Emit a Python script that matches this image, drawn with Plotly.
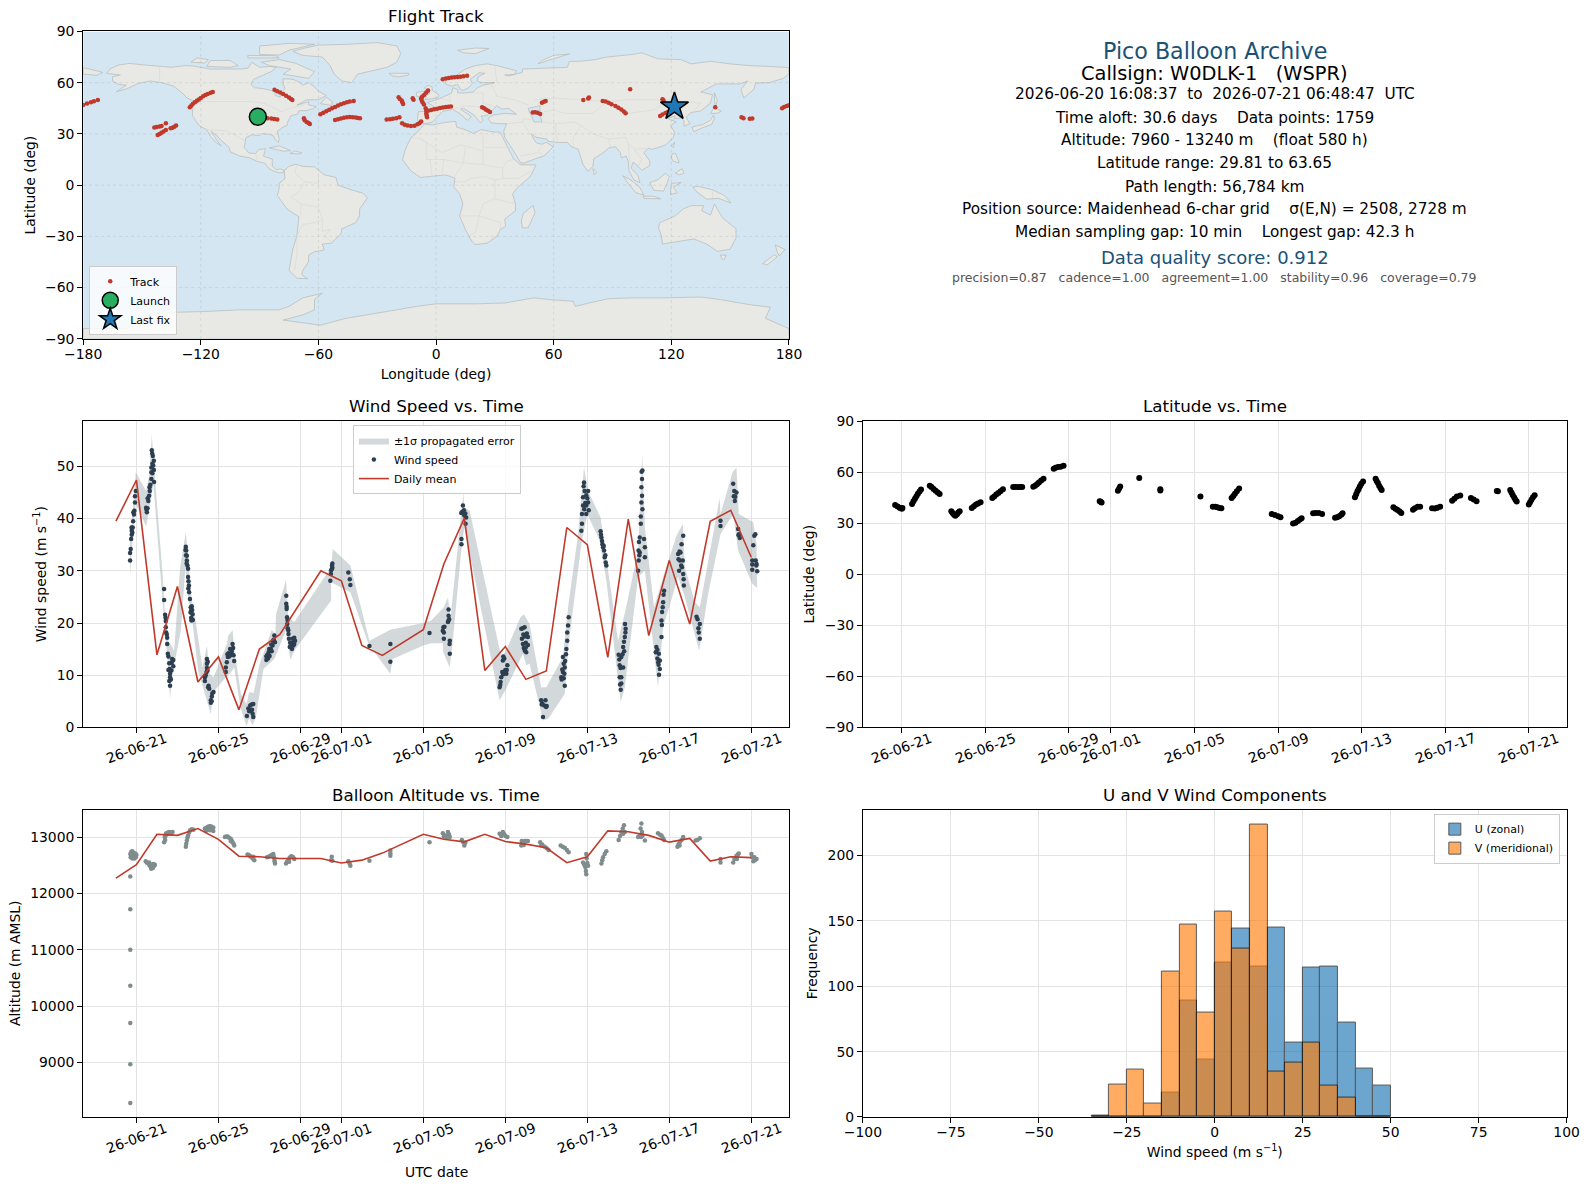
import pandas as pd
import plotly.graph_objects as go

FONT = "DejaVu Sans"
RED = "#c0392b"
NAVY = "#1a5276"
OCEAN = "#d4e6f1"
LAND = "#e8e8e4"
GRID = "#e3e3e3"

# tick values
date_ticks = ["2026-06-21", "2026-06-25", "2026-06-29", "2026-07-01", "2026-07-05",
              "2026-07-09", "2026-07-13", "2026-07-17", "2026-07-21"]
date_labels = ["26-06-21", "26-06-25", "26-06-29", "26-07-01", "26-07-05",
               "26-07-09", "26-07-13", "26-07-17", "26-07-21"]
lon_ticks = [-180, -120, -60, 0, 60, 120, 180]
lat_ticks = [-90, -60, -30, 0, 30, 60, 90]
wind_ticks = [0, 10, 20, 30, 40, 50]
alt_ticks = [9000, 10000, 11000, 12000, 13000]
hist_xticks = [-100, -75, -50, -25, 0, 25, 50, 75, 100]
hist_yticks = [0, 50, 100, 150, 200]

# coastlines as lon, lat rings
land_rings = [
    # north america
    [(-168, 65.5), (-166, 68.3), (-162, 70.3), (-156.5, 71.3), (-150, 70.5), (-141, 69.6), (-135, 69), (-128, 70),
     (-124, 69.8), (-115, 68), (-108, 68), (-100, 68), (-96, 68.5), (-94, 72), (-90, 69), (-85, 69.5), (-81.5, 69),
     (-84, 66.5), (-87, 65), (-93, 62), (-94.5, 59), (-92.5, 57), (-88, 56.5), (-82.5, 55), (-82, 52.5), (-79.5, 51.5),
     (-79, 54.5), (-77, 56.5), (-78, 58.7), (-78, 62.3), (-73, 62), (-70, 60.5), (-68, 58.5), (-65, 60), (-62, 57.5),
     (-60, 55), (-56, 52.5), (-60, 50), (-66, 50), (-71, 46.8), (-65, 48.8), (-65, 47), (-61, 46), (-63, 44.7),
     (-66, 43.7), (-70, 43.5), (-70.5, 41.7), (-74, 40.6), (-75.5, 37.5), (-76, 35), (-78, 34), (-81, 31.5), (-80, 27),
     (-80.5, 25.2), (-82, 26.5), (-83, 29), (-85, 29.7), (-89, 30.2), (-90, 29), (-94, 29.5), (-97, 27.8), (-97.5, 25),
     (-97.8, 22), (-95.5, 18.8), (-92, 18.6), (-90.5, 20.8), (-87, 21.4), (-88, 17), (-83.5, 15.2), (-83.5, 11),
     (-81.5, 9), (-79.5, 9.5), (-77.5, 8.5), (-78, 7.3), (-80.5, 7.3), (-83, 8.3), (-85.5, 10), (-87.5, 13), (-91.5, 14),
     (-95, 16), (-100, 17), (-105, 19.5), (-105.5, 22), (-109, 25.5), (-112.8, 30), (-114.7, 31.5), (-112, 26.5),
     (-109.5, 23), (-112, 24.7), (-115, 28.5), (-117, 32.5), (-120.5, 34.5), (-122.5, 37.5), (-124.3, 41), (-124, 46),
     (-123, 49), (-127, 51), (-130, 54.5), (-134, 58), (-140, 60), (-146, 61), (-152, 59.5), (-158, 56.3), (-163, 54.7),
     (-158, 58.5), (-162, 59), (-165, 61), (-165, 63.5), (-161, 64.5)],
    # greenland
    [(-73, 78.3), (-68, 80), (-60, 82), (-45, 82.5), (-30, 83.5), (-20, 81.5), (-18, 77), (-20, 72), (-25, 69), (-33, 67),
     (-40, 65), (-43, 60), (-48, 61), (-52, 65), (-54, 70), (-58, 75), (-68, 76)],
    # canadian arctic and atlantic islands
    [(-80, 73.5), (-72, 71.5), (-67, 69), (-62, 66.5), (-65, 62.5), (-72, 64), (-78, 65), (-74, 68), (-85, 70), (-89, 72)],
    [(-117, 69.5), (-105, 69), (-101, 70), (-105, 73), (-115, 73)],
    [(-90, 76.5), (-80, 76.2), (-75, 79), (-62, 82.5), (-75, 83), (-90, 81.5)],
    [(-125, 72), (-118, 71.5), (-116, 73.5), (-122, 74.5)],
    [(-96, 74.5), (-80, 74.5), (-82, 75.8), (-96, 76)],
    [(-59, 47.7), (-53, 46.7), (-53, 49), (-56, 51.5)],
    [(-85, 21.8), (-80, 23), (-74.2, 20.2), (-78, 19.9)],
    [(-74.5, 18.5), (-69, 18.3), (-68.5, 19), (-72, 20)],
    # south america
    [(-77.5, 8.5), (-75, 11), (-71.5, 12.3), (-68, 11), (-62, 10.7), (-57, 6), (-51, 4.5), (-50, 0), (-44, -2.5),
     (-37, -4.8), (-35, -7.5), (-39, -14), (-39, -18), (-41, -22), (-48, -25.5), (-48.5, -28.5), (-53.5, -34), (-58, -34.5),
     (-57, -38), (-62, -39), (-65, -41), (-65, -45), (-68, -50), (-68.5, -52.5), (-65.5, -54.8), (-71, -54.5), (-75, -50),
     (-74, -42), (-73, -37), (-71, -30), (-70, -18.5), (-76, -14), (-81, -6), (-80, -2), (-80, 1), (-77, 4)],
    # africa and madagascar
    [(-6, 35.8), (-2, 35.2), (5, 36.8), (10, 37.3), (10.5, 34), (15, 32.4), (19, 30.3), (23, 32.5), (30, 31), (32.5, 31.2),
     (34, 28), (37, 21), (39.5, 15.5), (43, 12), (51, 11.8), (48, 5), (42, -1), (39, -5), (40.5, -11), (40.5, -15), (35, -20),
     (35.5, -24), (32.8, -26), (31, -30), (26, -34), (20, -34.8), (18.3, -33), (15, -26), (12, -18), (13.7, -11), (12, -5),
     (9, -1), (9.7, 4), (5, 6), (-3, 5), (-8, 4.5), (-13, 8.5), (-17, 14.7), (-16, 20), (-13, 27.5), (-9.5, 31)],
    [(49.5, -12), (50.5, -16), (47, -25), (44, -25), (43.5, -21), (44.5, -16.5)],
    # eurasia
    [(-9, 37), (-9.5, 39), (-9, 43), (-2, 43.5), (-1, 46), (-4.5, 48.4), (1.5, 50.5), (4, 52), (8, 54), (8.5, 57), (11, 56),
     (11, 54), (14, 54), (19, 54.5), (21, 57), (24, 58.5), (28, 59.7), (30, 60), (23, 60), (21, 61), (21.5, 63.5), (25, 65.5),
     (22, 65.8), (17.5, 62), (18.5, 59.5), (16.5, 57), (14, 55.5), (12.5, 56), (11, 59), (8, 58), (5, 59), (5, 62), (10, 64),
     (15, 68), (20, 70), (26, 71), (31, 70), (41, 67), (40, 64.8), (35, 64.5), (37, 64), (44, 66), (44, 68), (54, 68.5),
     (60, 69), (67, 69), (68, 72.5), (73, 72.5), (81, 73.5), (87, 75), (100, 76.5), (105, 77.5), (113, 74), (125, 73.5),
     (130, 71), (140, 72.5), (150, 71), (160, 70), (170, 69.5), (180, 68.8), (180, 65), (177, 62.5), (170, 60), (163, 59.8),
     (162, 56), (157, 51), (155.5, 56), (159, 61), (155, 59.3), (143, 59.3), (135, 54.5), (141, 53), (140, 48), (135, 43.5),
     (130, 42.5), (127.5, 39.8), (129.5, 36), (126.5, 34.5), (126.5, 37.5), (125, 39.5), (121.5, 39), (122, 40.7), (118, 39),
     (122.5, 37), (119.5, 35), (121.8, 31), (121, 28), (117, 23.5), (110.5, 21), (108, 21.5), (106, 19), (109, 14), (109, 11.5),
     (105, 8.7), (103, 11), (100.5, 13.5), (99.5, 10), (103, 5.5), (104, 1.5), (101, 3), (98.5, 8), (98, 14), (97, 17), (94.5, 16),
     (94, 19), (91.5, 22.5), (88, 21.8), (86.5, 20), (80.5, 15.5), (80, 11), (77.5, 8), (75, 12), (73, 19), (72.5, 21), (69, 22.5),
     (67, 25), (62, 25), (57, 25.7), (56.5, 27), (51, 28), (48.5, 30), (50, 26.5), (51.5, 24.5), (54, 24), (56.3, 25), (59.8, 22.5),
     (55, 17), (52, 16), (45, 13), (43.2, 13), (39, 21), (35, 28), (34.5, 31.5), (36, 36), (32, 36), (28, 36.5), (26.5, 39), (29, 41),
     (35, 42), (41, 41.5), (37, 45), (33.5, 44.5), (31, 46.5), (28, 43), (26, 40.8), (23, 40.5), (24, 38), (22.5, 36.5), (19.5, 41),
     (14, 45), (12.5, 44.5), (18, 40), (16, 38), (12, 42), (8.5, 44.3), (3.5, 43.3), (0, 39.5), (-2, 36.8), (-5.5, 36)],
    [(-180, 65), (-180, 68.8), (-175, 67.5), (-170, 66), (-173, 64.3)],
    # europe and asia islands
    [(-5.5, 50), (1, 51.2), (1.5, 52.8), (-2, 55.5), (-2, 57.5), (-4, 58.5), (-6, 57), (-3, 54), (-5, 52)],
    [(-10, 52), (-6, 52.2), (-6, 55), (-10, 54.3)],
    [(-24, 65.5), (-14, 65.5), (-14, 64.5), (-19, 63.4), (-22.5, 64)],
    [(11, 79), (20, 80.3), (27, 80), (20, 77), (14, 77.5)],
    [(52, 71), (57, 73), (68, 76.8), (60, 76), (54, 73)],
    [(142, 54), (143.5, 49.5), (142.5, 46), (142, 50)],
    [(130.5, 34), (136, 35.5), (140, 38), (141.5, 41), (142, 39), (140.5, 35.5), (136, 33.7), (131.5, 31.2)],
    [(140, 42), (141.8, 45.5), (145.5, 43.3), (143, 42)],
    [(120, 23), (121.7, 25.2), (121, 22)],
    [(120, 16), (120.5, 18.5), (122.3, 18.3), (124, 13), (121, 14)],
    [(122, 7), (125.5, 9.7), (126.5, 7), (124, 6)],
    [(109, 1.5), (113, 3), (117, 7), (119, 5), (117.8, 1), (116, -3.5), (111, -3)],
    [(95.3, 5.5), (100, 2.5), (104, -1.5), (106, -5.8), (102, -4.5), (98, 1)],
    [(105.5, -6.5), (111, -6.5), (114.5, -8), (106, -7.8)],
    [(119.5, -5.5), (120, 1), (125, 1.5), (121, -1), (123, -4.5)],
    [(131, -1), (134, -0.8), (141, -2.7), (147, -6), (150.5, -10.5), (144, -7.7), (138, -8.2), (133, -4)],
    [(80, 9.7), (82, 7.5), (80.7, 6)],
    # australia and new zealand
    [(114, -22), (122, -18), (126, -14), (130, -12), (136.5, -12), (135.5, -15), (140, -17.5), (142, -11), (146, -19), (153, -25.5),
     (153, -31), (150, -37.5), (143.5, -38.8), (138, -34.5), (131.5, -31.5), (124, -33), (115.5, -34.5), (115, -30), (113.5, -25)],
    [(145, -41), (148, -41), (147, -43.5), (146, -43.5)],
    [(173, -35), (178, -37.7), (175, -41.5), (174, -39)],
    [(172.5, -40.7), (174, -42), (169, -46.6), (166.5, -46)],
    # antarctica
    [(-180, -90), (-180, -84), (-158, -84), (-150, -77), (-135, -74.5), (-118, -74), (-100, -73), (-90, -73), (-80, -73), (-75, -71),
     (-68, -66), (-58, -63.3), (-62, -67), (-62, -73), (-68, -76), (-78, -79), (-59, -82), (-46, -78), (-35, -76), (-20, -73),
     (-10, -71), (0, -69.5), (20, -69.5), (35, -69), (50, -66), (58, -67), (70, -68), (71, -71), (78, -69), (88, -66.5), (100, -66),
     (115, -66), (135, -65.5), (145, -67), (160, -70), (170.5, -71.5), (168, -78), (180, -84), (180, -90)],
]
caspian_ring = [(47, 45), (53, 46.5), (53, 41), (54, 37), (50, 37), (49, 40), (47.5, 43)]

border_lines = [
    [(-123, 49), (-95, 49), (-88, 48), (-83, 45.5), (-79, 43), (-75, 45), (-70, 46), (-67.5, 47)],
    [(-141, 69.6), (-141, 60)],
    [(-117, 32.5), (-106.5, 31.8), (-97.5, 26)],
    [(-71, 12), (-72, 7), (-67, 2), (-70, -4), (-74, -7), (-69, -11), (-69, -17)],
    [(-60, 5), (-60, 1), (-67, 2)],
    [(-58, -20), (-62, -22), (-68, -23), (-71, -30), (-71, -40), (-72, -50)],
    [(-58, -20), (-58, -27), (-54, -26), (-57, -30), (-53.5, -33)],
    [(-69, -11), (-60, -13), (-58, -20)],
    [(-13, 27.5), (-8.5, 27.5), (3, 19), (12, 23.5), (15, 23), (24, 20), (24, 31)],
    [(24, 22), (36.5, 22)],
    [(-8.5, 27.5), (-5, 25), (-5, 15), (4, 15), (14, 13), (15, 23)],
    [(14, 13), (24, 12), (24, 20)],
    [(24, 12), (34, 10), (36, 14), (39.5, 15)],
    [(34, 10), (34, 4), (42, 4), (48, 8)],
    [(34, 4), (30, 3), (25, 5), (18, 4), (15, 2), (9.7, 2)],
    [(30, 3), (30, -8), (24, -11), (22, -18), (12, -18)],
    [(30, -8), (40.5, -11)],
    [(22, -18), (20, -28), (17, -29)],
    [(22, -18), (33, -22), (32.8, -26)],
    [(-2, 5), (-3, 15)],
    [(3, 6.5), (4, 15)],
    [(9, 4.5), (14, 13)],
    [(2.5, 51), (7, 49), (7, 54)],
    [(-2, 43.5), (3, 42.5)],
    [(7, 44), (14, 46.5), (20, 46), (28, 45.5)],
    [(14, 54), (24, 54), (24, 48), (30, 46)],
    [(28, 59.7), (31, 52), (40, 50), (47, 47)],
    [(30, 70), (31, 60)],
    [(36, 36), (44, 37), (48, 30)],
    [(44, 37), (45, 39), (49, 38)],
    [(53, 37), (61, 36), (61, 31), (62, 25)],
    [(61, 36), (71, 37), (74, 35), (70, 28), (70, 22.5)],
    [(51, 42), (60, 44), (66, 42), (80, 42), (87, 49), (60, 51), (50, 50)],
    [(87, 49), (98, 42), (111, 44), (119, 50), (135, 48), (131, 43)],
    [(98, 50), (87, 49)],
    [(119, 50), (98, 50)],
    [(74, 35), (80, 30), (88, 27), (97, 28), (98, 24), (102, 21), (107, 21.5)],
    [(88, 27), (89, 22)],
    [(98, 24), (99, 12)],
    [(101, 21), (105, 15), (103, 11)],
    [(55, 17), (52, 20), (55, 24)],
    [(43, 17), (52, 19)],
    [(141, -2.7), (141, -9)],
    [(-83, 15), (-85, 11)],
    [(-92, 18), (-91, 14)],
]

# flight track markers, lon, lat
launch_lon = [-90.9]
launch_lat = [40.1]
last_lon = [121.6]
last_lat = [46.0]
track_samples = [
    (-180, 47), (-178, 47.8), (-176, 48.5), (-174.5, 49.2), (-172.5, 49.8),
    (-125.6, 45.6), (-124.8, 46.7), (-124, 47.6), (-123, 48.5), (-122, 49.4), (-121, 50.2), (-120, 51), (-118.8, 52),
    (-117.7, 52.8), (-116.5, 53.4), (-115, 54.1), (-113.9, 54.6),
    (-143.7, 33.8), (-142.5, 34), (-141, 34.3), (-140, 34.6), (-142, 29.3), (-141, 30), (-140, 30.7), (-139, 31.4), (-137.8, 32.3),
    (-137.8, 36.2), (-135.4, 33.3), (-134.5, 33.6), (-133.5, 34.2), (-132.6, 35),
    (-90, 39.6), (-88, 39.4), (-86, 39.2), (-84, 39), (-82.5, 38.8), (-81, 38.5),
    (-82.4, 55.8), (-81, 55), (-79.5, 54.2), (-78, 53.3), (-76.5, 52.4), (-75, 51.3), (-74, 50.5), (-73.3, 49.9),
    (-67.4, 39.1), (-67, 38), (-66, 37), (-65, 36.4), (-64.4, 35.8),
    (-59, 41.5), (-57.5, 42.4), (-56, 43.3), (-54.5, 44.1), (-53, 45), (-51.5, 45.8), (-50, 46.6), (-48.5, 47.4), (-47, 48),
    (-45.5, 48.5), (-44, 49), (-42, 49.3),
    (-51.5, 38.2), (-50, 38.6), (-48.5, 39), (-47, 39.5), (-45.5, 39.7), (-44, 39.9), (-42.5, 39.8), (-41, 39.6), (-39.8, 39.3), (-38.8, 39.1),
    (-25.2, 38.5), (-23.5, 38.6), (-22, 38.9), (-20.3, 39.2), (-18.7, 39.7),
    (-19.1, 51.5), (-18.5, 50.5), (-17.5, 49.5), (-17.2, 48.5), (-16.8, 47.5), (-11.9, 50.9), (-11.5, 50),
    (-17.3, 36.2), (-16, 35.4), (-14.5, 34.9), (-12.8, 34.6), (-11, 34.8), (-9.5, 35.6), (-8.5, 36.3), (-7.6, 37.2),
    (-4.1, 55.4), (-5, 54.2), (-6, 53), (-7, 51.9), (-7.6, 50.9), (-7.4, 49.8), (-6.9, 48.6), (-6.2, 47.2), (-5.3, 45), (-5, 43.5),
    (-5, 42), (-4.8, 40.8), (-4.6, 39.7),
    (-4.1, 43.6), (-2.5, 44), (-1, 44.4), (0.5, 44.8), (2, 45.2), (3.5, 45.5), (5, 45.7), (6.3, 45.9), (7.6, 46),
    (3.4, 62), (5, 62.4), (6.5, 62.8), (8, 63), (9.5, 63.2), (11, 63.4), (12.5, 63.5), (14, 63.7), (15.8, 64),
    (23.5, 45.6), (24.5, 45), (25.5, 44.2), (26.5, 43.5), (27.5, 42.9),
    (49.3, 42.5), (50.5, 42.7), (51.8, 42.4), (53.1, 41.7),
    (54, 48.3), (55, 48.9), (55.9, 49.3),
    (75.1, 49.9), (78, 51.3), (77.6, 50.8),
    (85, 49.3), (86.5, 49), (88, 48.3), (89.5, 47.4), (91.5, 46.4), (93, 45.3), (94.5, 44.3), (95.8, 43.1), (96.7, 42.1),
    (99, 56.2), (115.5, 50.3), (116, 49.5),
    (114.3, 40.5), (115.5, 41.3), (117, 42.2), (118.3, 43), (119.5, 43.9), (120.8, 44.8),
    (142.4, 45.6), (155.8, 39.7), (156.8, 39.2), (160, 38.9), (161.3, 39),
    (176.5, 45), (177.5, 45.7), (178.8, 46.3), (180, 46.8),
]

# day numbers counted from 2026-06-21, daily means have no 06-29 or 07-04
mean_days = [-1, 0, 1, 2, 3, 4, 5, 6, 7, 9, 10, 11, 12, 14, 15, 16, 17, 18, 19, 20, 21, 22, 23, 24, 25, 26, 27, 28, 29, 30]
mean_wind = [39.5, 47.4, 13.9, 27, 8.7, 13.5, 3.4, 15, 17.8, 30, 28.1, 15.7, 13.8, 18.7, 31.3, 40.1, 10.9, 15.5, 9.2, 10.8,
             38.3, 35, 13.4, 39.9, 17.6, 32, 19.8, 39.5, 41.6, 32.6]
mean_alt = [12270, 12510, 13050, 13030, 13150, 12960, 12660, 12650, 12620, 12620, 12540, 12590, 12715, 13050, 12960, 12915,
            13050, 12920, 12875, 12810, 12545, 12650, 13110, 13095, 13030, 12910, 12975, 12575, 12650, 12635]

wind_samples = [
    (-.31, 32), (-.31, 33.4), (-.28, 34.2), (-.26, 36.1), (-.23, 36.9), (-.23, 37.7), (-.24, 38.3), (-.18, 38.3), (-.2, 37.3),
    (-.16, 39.5), (-.15, 41.2), (-.1, 41.5), (-.12, 40.8), (-.07, 43.1), (-.07, 44.3), (-.03, 45.3),
    (.49, 41.7), (.51, 41.2), (.54, 42), (.47, 42.1), (.55, 43.9), (.58, 43.4), (.62, 44.4), (.65, 45.3), (.68, 46.5), (.64, 46), (.73, 47.6),
    (.86, 47), (.73, 48.9), (.85, 49.3), (.78, 48.7), (.73, 49.8), (.85, 51.1), (.78, 50.5), (.8, 52), (.75, 53.1), (.77, 52.5), (.82, 50.2),
    (1.35, 26.5), (1.35, 24.4), (1.4, 21.6), (1.42, 21), (1.43, 20.4), (1.43, 19.2), (1.45, 18.2), (1.5, 17.2), (1.48, 17.8), (1.5, 16), (1.53, 14.1), (1.56, 13.6),
    (1.74, 13.1), (1.8, 12.9), (1.6, 12.3), (1.8, 11.7), (1.72, 12.4), (1.56, 11), (1.71, 10.9), (1.64, 10.3), (1.64, 9.6), (1.6, 8.9), (1.64, 8), (1.68, 9.2), (1.62, 11.2),
    (2.41, 34.6), (2.43, 33.9), (2.39, 34), (2.46, 32.9), (2.46, 32), (2.42, 33), (2.49, 31), (2.45, 31.4), (2.52, 30.4), (2.52, 28.8), (2.54, 28), (2.56, 27.2), (2.53, 26.6), (2.57, 25.9), (2.61, 24.6),
    (2.65, 23), (2.67, 22.4), (2.64, 22), (2.74, 21.7), (2.67, 21), (2.75, 20.6), (2.7, 23.2), (2.72, 22.5), (2.68, 20.5),
    (3.44, 13.1), (3.44, 12.2), (3.48, 12.6), (3.44, 11.4), (3.42, 10.6), (3.47, 10.9), (3.34, 9.6), (3.38, 10), (3.34, 8.9), (3.52, 8), (3.55, 7.4), (3.5, 7.7),
    (3.76, 6.8), (3.68, 5.9), (3.7, 6.5), (3.63, 5.2), (3.63, 4.7), (3.67, 5),
    (4.36, 11.5), (4.36, 10.6), (4.41, 12.5), (4.46, 13.5), (4.49, 14.2), (4.44, 14), (4.57, 15), (4.52, 13.6), (4.6, 13.8), (4.69, 16), (4.72, 15.2), (4.66, 15), (4.74, 13.8), (4.68, 13.9), (4.77, 12.7), (4.65, 14.5),
    (5.39, 2.2), (5.46, 3.6), (5.5, 3.1), (5.55, 4.2), (5.62, 4.4), (5.7, 4.5), (5.59, 3.3), (5.67, 2.6), (5.7, 2), (5.64, 3.4),
    (6.34, 12.9), (6.37, 13.8), (6.34, 13.6), (6.45, 14.4), (6.42, 13.2), (6.5, 13.7), (6.56, 15), (6.48, 15), (6.64, 15.7), (6.6, 14.6), (6.73, 17.6), (6.7, 16.8), (6.76, 16.3), (6.66, 16.6), (6.58, 15.9),
    (7.31, 25.2), (7.31, 23.7), (7.33, 23.1), (7.33, 22.7), (7.35, 21.1), (7.37, 20.6), (7.36, 19.8), (7.38, 19), (7.41, 18.6), (7.42, 17.9), (7.44, 17), (7.5, 16.2), (7.48, 15.4), (7.59, 15),
    (7.7, 17.2), (7.7, 16), (7.6, 16.2), (7.62, 17), (7.66, 15.7), (7.55, 15.6), (7.74, 16.6),
    (9.46, 28.1), (9.49, 29.4), (9.54, 30.4), (9.5, 30.1), (9.56, 31.4), (9.54, 31), (9.56, 30.6),
    (10.34, 29.7), (10.41, 28.4), (10.44, 27.3), (11.37, 15.6), (12.39, 16), (12.39, 12.6), (14.3, 18.1),
    (14.98, 19.2), (15, 18.2), (14.95, 18.5), (15, 17), (15.03, 19.3), (15.23, 22.6), (15.23, 21.4), (15.23, 20.5), (15.2, 20.2), (15.26, 20.7), (15.29, 16.6), (15.29, 14.1), (15.28, 16),
    (15.93, 42.5), (15.85, 41.1), (15.9, 41.3), (16.09, 40.2), (16, 40.6), (16.05, 41), (16.06, 39), (15.98, 41.6), (15.86, 36.1), (15.86, 35.1),
    (17.9, 13.6), (17.88, 12.8), (17.95, 13.2), (18.1, 11.9), (17.85, 10.6), (18.05, 10.3), (17.95, 10.5), (18, 11), (18.07, 11), (17.8, 9.6), (17.77, 8.7), (17.72, 7.7), (17.75, 8.1), (17.9, 10.2),
    (18.78, 18.9), (18.94, 19.2), (18.85, 19), (18.81, 17), (19.1, 17.3), (19.02, 14.4), (18.86, 16), (18.95, 17.4), (19, 16.2), (19.1, 15.8), (18.9, 15.2), (18.95, 14.7), (19.05, 18), (18.88, 17.8), (19, 15.3),
    (19.75, 5.2), (19.99, 3.9), (19.96, 5.2), (19.84, 2), (19.8, 4.6), (19.9, 4.2), (20.02, 4.1), (19.78, 4.4),
    (20.73, 9.6), (20.9, 8), (20.81, 10.6), (20.9, 11.5), (20.85, 12.2), (20.81, 13.5), (20.78, 11.1), (20.75, 9.2), (20.85, 9.4), (20.88, 10.3), (20.92, 12.7), (20.98, 15), (21.02, 16.6), (21.02, 18.2), (21.06, 19.5), (21.09, 21.1), (20.96, 14),
    (21.71, 37.7), (21.74, 39), (21.74, 40.9), (21.79, 42.5), (21.79, 44.1), (21.87, 45.3), (21.84, 46.9), (21.82, 46.2), (22.04, 45.3), (22.04, 43.1), (22.07, 41.6), (21.95, 40.9), (21.95, 42.5), (21.9, 43), (21.95, 44.5), (22, 43.9), (21.85, 41.8),
    (22.65, 37.6), (22.67, 36.9), (22.69, 36.4), (22.72, 35.7), (22.74, 35.1), (22.77, 34.5), (22.82, 33.9), (22.85, 32.6), (22.93, 31), (22.9, 31.6), (22.8, 34.8), (22.88, 33),
    (23.53, 13.9), (23.58, 11.9), (23.56, 13), (23.75, 11.5), (23.66, 13.5), (23.66, 9.6), (23.66, 8.4), (23.63, 7.2), (23.58, 9.6), (23.62, 11.4), (23.6, 8.2),
    (23.75, 15.4), (23.83, 17.3), (23.79, 16.4), (23.87, 18.9), (23.84, 19.8), (23.86, 18.2), (23.8, 14.6), (23.72, 14),
    (24.48, 30), (24.51, 32), (24.54, 33), (24.56, 33.5), (24.52, 35.5), (24.56, 36.4), (24.61, 39), (24.61, 40.4), (24.69, 41.8), (24.64, 43.1), (24.67, 44.4), (24.64, 46), (24.67, 47.6), (24.69, 49.2), (24.65, 49),
    (24.77, 36.1), (24.81, 34.5), (24.81, 32.6), (24.5, 33.9),
    (25.37, 15.4), (25.42, 14.9), (25.34, 14.4), (25.49, 14.1), (25.42, 13.2), (25.54, 12.8), (25.46, 12.5), (25.54, 11.2), (25.5, 10.1), (25.48, 12), (25.62, 20.5), (25.65, 22.1), (25.68, 23), (25.7, 24), (25.72, 25.4), (25.75, 26.2), (25.62, 17.3), (25.64, 19.6),
    (26.43, 33.2), (26.51, 32), (26.48, 30), (26.45, 32.2), (26.55, 33.5), (26.6, 35.1), (26.5, 33.7), (26.58, 31), (26.68, 36.7), (26.68, 29.4), (26.7, 28.4), (26.71, 27.2), (26.66, 32), (26.62, 30.7),
    (27.33, 21.2), (27.38, 20.7), (27.49, 19.8), (27.44, 18.2), (27.42, 19), (27.49, 17),
    (28.5, 38.6), (28.5, 39.6), (29.12, 46.7), (29.17, 45.3), (29.28, 45), (29.2, 43.4), (29.15, 44.3), (29.22, 44.2), (29.36, 38), (29.4, 37), (29.44, 36.3), (29.38, 36.8),
    (30.15, 36.7), (30.2, 37), (30.1, 34.9), (30.05, 32), (30.05, 30.2), (30.05, 31.2), (30.26, 31.3), (30.22, 32), (30.29, 29.9), (30.25, 31),
]
band_upper = [
    (-.31, 35.5), (-.11, 44.7), (-.03, 48.9), (.47, 45.3), (.62, 48.2), (.75, 56.1), (.85, 50.4), (1.29, 28.8), (1.38, 22.4), (1.55, 16.6), (1.71, 15.7),
    (1.84, 14.7), (2.13, 30.7), (2.41, 37.4), (2.52, 32.6), (2.69, 24.9), (2.9, 20.2), (3.22, 11.5), (3.44, 15.7), (3.57, 10.3), (3.76, 9.6), (4.41, 16),
    (4.48, 17.6), (4.69, 18.6), (4.8, 14.4), (5.1, 6.4), (5.37, 4.5), (5.5, 6.8), (5.72, 6.6), (6.01, 12.2), (6.37, 16), (6.6, 18.7), (6.78, 17.9), (6.81, 21.7),
    (7.3, 28.3), (7.41, 21.1), (7.7, 20.2), (9.5, 30.7), (9.58, 34.2), (10.44, 31), (11.37, 16.6), (12.39, 18.7), (14, 20), (14.38, 20.5), (15, 23), (15.2, 24.9),
    (15.33, 21.1), (15.95, 45), (16, 42.2), (16.26, 41.5), (17.8, 13.5), (18.04, 14.7), (18.74, 21.1), (18.91, 21.7), (19.18, 19.8), (19.75, 7.7), (20, 7.7),
    (20.81, 13.5), (21.06, 23), (21.55, 37), (21.84, 49.8), (22.04, 45.3), (22.65, 40.2), (23.01, 30), (23.5, 16.6), (23.86, 22.4), (24.48, 33.9), (24.68, 52.4),
    (24.81, 38.3), (25.26, 23), (25.7, 28.8), (26.35, 36.7), (26.66, 39), (26.76, 30.7), (27.25, 24), (27.49, 23), (28.46, 44), (28.5, 40.9), (29.09, 48.9),
    (29.28, 49.8), (29.39, 40.9), (30.1, 39.3), (30.26, 35.1),
]
band_lower = [
    (-.31, 28.8), (-.11, 40.9), (-.03, 42.8), (.47, 38.5), (.62, 41.5), (.83, 46.5), (1.27, 24.3), (1.48, 14.7), (1.64, 5.5), (1.76, 10.3), (2.17, 18.6),
    (2.39, 30.7), (2.52, 24.9), (2.74, 19.8), (3.01, 10.9), (3.34, 6.4), (3.63, 2.5), (3.76, 6.8), (4.36, 9.6), (4.56, 10.3), (4.77, 11.5), (5.07, 3.9), (5.37, .2),
    (5.5, 1.7), (5.67, .4), (5.83, 2), (6.2, 11.2), (6.4, 11.9), (6.73, 13.1), (7.3, 18.6), (7.51, 12.9), (7.7, 14.7), (9.5, 24.3), (9.5, 27.8), (10.44, 25.9),
    (11.32, 16), (12.39, 10.3), (12.5, 13.1), (14, 15.7), (14.38, 16.1), (14.95, 16.1), (14.97, 14.4), (15.29, 11.5), (15.44, 16.6), (15.85, 33.9), (16, 38.3),
    (17.72, 5.2), (18.04, 7.4), (18.86, 14.1), (19.02, 11.9), (19.18, 12.2), (19.84, 1.3), (20.1, 1.7), (20.9, 6.4), (21.09, 16), (21.71, 35.1), (22, 40.9),
    (22.6, 35.8), (22.93, 28.1), (23.63, 4.8), (23.83, 7.7), (24.48, 28.8), (24.81, 30), (25.45, 7.7), (25.7, 19.2), (26.43, 28.8), (26.76, 24.9), (27.46, 14.7),
    (27.9, 25.6), (28.5, 37), (29.12, 40.9), (29.36, 33.9), (30.05, 27.5), (30.29, 26.7),
]

alt_samples = [
    (-.3, 8280), (-.3, 8970), (-.3, 9700), (-.3, 10360), (-.3, 11000), (-.3, 11720), (-.3, 12300),
    (-.3, 12700), (-.25, 12740), (-.2, 12750), (-.15, 12720), (-.1, 12700), (-.28, 12640), (-.2, 12620), (-.1, 12620), (-.03, 12640), (0, 12680), (-.22, 12680), (-.12, 12660), (-.05, 12710),
    (.45, 12570), (.5, 12550), (.55, 12540), (.62, 12510), (.66, 12490), (.7, 12470), (.72, 12440), (.76, 12460), (.8, 12450), (.87, 12490), (.9, 12510), (.62, 12550), (.75, 12510), (.83, 12520),
    (1.35, 12910), (1.38, 13000), (1.4, 12950), (1.45, 13070), (1.5, 13050), (1.55, 13080), (1.6, 13090), (1.65, 13060), (1.7, 13070), (1.76, 13090), (1.42, 13030),
    (2.41, 12830), (2.43, 12880), (2.46, 12940), (2.49, 12990), (2.52, 13030), (2.57, 13080), (2.62, 13120), (2.7, 13140), (2.78, 13130),
    (3.34, 13150), (3.39, 13110), (3.42, 13160), (3.47, 13180), (3.55, 13190), (3.63, 13190), (3.75, 13170), (3.75, 13110), (3.6, 13120), (3.5, 13130), (3.68, 13140),
    (4.32, 13000), (4.38, 13010), (4.45, 13010), (4.52, 12990), (4.6, 12970), (4.65, 12940), (4.69, 12910), (4.74, 12880), (4.77, 12850), (4.6, 12930),
    (5.42, 12690), (5.48, 12680), (5.55, 12660), (5.59, 12650), (5.67, 12620), (5.75, 12590), (5.7, 12650),
    (6.37, 12640), (6.45, 12650), (6.53, 12670), (6.6, 12680), (6.68, 12700), (6.7, 12650), (6.73, 12610), (6.74, 12570), (6.76, 12530),
    (7.3, 12530), (7.35, 12560), (7.41, 12590), (7.47, 12630), (7.52, 12650), (7.57, 12660), (7.65, 12640), (7.7, 12610), (7.45, 12560),
    (9.53, 12650), (9.5, 12590), (9.56, 12580), (10.34, 12570), (10.4, 12530), (10.44, 12490), (11.37, 12580), (12.39, 12760), (12.39, 12715), (12.39, 12670), (14.3, 12910),
    (14.95, 13070), (15, 13010), (15.06, 13030), (15.2, 13090), (15.25, 13050), (15.29, 13000), (15.12, 13000),
    (15.88, 12950), (15.95, 12910), (16, 12850), (16.05, 12900),
    (17.72, 13060), (17.8, 13020), (17.88, 13090), (17.95, 13050), (18.1, 13000), (18, 13020),
    (18.78, 12850), (18.82, 12900), (18.86, 12910), (18.95, 12930), (19.02, 12930), (19.1, 12930), (18.8, 12930), (18.9, 12860),
    (19.7, 12910), (19.75, 12850), (19.8, 12870), (19.92, 12830), (20.02, 12800), (20.11, 12770),
    (20.7, 12850), (20.8, 12830), (20.9, 12810), (21, 12770), (21.09, 12730),
    (21.79, 12550), (21.85, 12510), (21.9, 12470), (21.93, 12400), (21.95, 12340), (21.95, 12700), (21.97, 12620), (22, 12540), (22.04, 12490),
    (22.69, 12530), (22.73, 12590), (22.77, 12640), (22.85, 12700), (22.93, 12750),
    (23.53, 12950), (23.6, 13020), (23.66, 13090), (23.73, 13150), (23.79, 13210), (23.83, 13090), (23.75, 13060),
    (24.48, 13000), (24.55, 13020), (24.6, 13150), (24.64, 13240), (24.67, 13090), (24.7, 13030), (24.81, 12940), (24.63, 13000),
    (25.45, 13070), (25.55, 13040), (25.62, 13030), (25.68, 12990), (25.75, 12950),
    (26.4, 12830), (26.45, 12870), (26.51, 12910), (26.6, 12950), (26.68, 13000), (26.5, 12850),
    (27.28, 12940), (27.38, 12950), (27.49, 12980),
    (28.5, 12550), (28.5, 12610), (29.12, 12550), (29.18, 12610), (29.28, 12670), (29.35, 12690), (29.39, 12710), (29.3, 12610),
    (30.01, 12700), (30.05, 12640), (30.1, 12570), (30.18, 12590), (30.26, 12610), (30.15, 12640),
]
lat_samples = [
    (-.32, 40.7), (-.2, 39.8), (-.1, 39), (0, 38.4), (.03, 38.9),
    (.49, 41.3), (.56, 42.8), (.63, 44.4), (.7, 45.8), (.77, 47.2), (.85, 48.6), (.92, 49.7),
    (1.34, 52), (1.42, 51.2), (1.52, 50), (1.62, 49), (1.72, 48), (1.81, 47.1),
    (2.37, 37), (2.43, 36), (2.5, 35), (2.56, 34.3), (2.64, 35.3), (2.7, 36.2), (2.77, 37),
    (3.35, 38.9), (3.45, 39.9), (3.55, 40.9), (3.65, 41.5), (3.77, 42.3),
    (4.33, 44.8), (4.42, 45.7), (4.52, 46.8), (4.62, 47.7), (4.72, 48.8), (4.84, 49.9),
    (5.33, 51.2), (5.43, 51.2), (5.55, 51.2), (5.66, 51.3), (5.76, 51.2),
    (6.29, 51.4), (6.38, 52), (6.47, 52.9), (6.56, 53.9), (6.67, 55), (6.78, 56.1),
    (7.27, 62), (7.36, 62.5), (7.47, 63), (7.6, 63.2), (7.74, 63.7),
    (9.47, 42.9), (9.51, 42.5), (9.56, 42.2),
    (10.34, 49.1), (10.4, 50.3), (10.45, 51.6), (11.36, 56.5), (12.37, 49.9), (12.37, 49.2), (14.29, 45.6),
    (14.88, 39.7), (15, 39.6), (15.1, 39.3), (15.2, 38.9), (15.29, 38.8),
    (15.78, 44.8), (15.86, 46), (15.94, 47.3), (16.03, 48.7), (16.14, 50.4),
    (17.7, 35.4), (17.85, 34.8), (18, 34), (18.12, 33.5),
    (18.72, 29.8), (18.84, 30.2), (18.95, 31.3), (19.05, 32.2), (19.13, 32.9),
    (19.68, 35.8), (19.8, 36), (19.95, 35.9), (20.11, 35.4),
    (20.73, 33.1), (20.83, 33.5), (20.93, 34.1), (21.03, 35), (21.09, 35.8),
    (21.68, 45.2), (21.74, 47), (21.8, 48.7), (21.86, 50), (21.92, 51.7), (21.99, 53.2), (22.07, 54.5),
    (22.67, 56.1), (22.72, 54.8), (22.78, 53.6), (22.84, 52), (22.9, 50.7), (22.96, 49.5),
    (23.52, 39.3), (23.62, 38.5), (23.72, 37.7), (23.82, 36.8), (23.9, 36),
    (24.46, 37.8), (24.55, 38.7), (24.68, 39.6), (24.8, 39.7),
    (25.37, 38.8), (25.5, 38.6), (25.62, 39), (25.76, 39.7),
    (26.33, 43.2), (26.44, 44.3), (26.56, 45.6), (26.72, 46.2),
    (27.23, 44.8), (27.36, 43.9), (27.5, 42.8),
    (28.47, 48.9), (28.52, 48.8),
    (29.11, 49.5), (29.17, 48), (29.23, 46.5), (29.3, 45), (29.36, 43.8), (29.42, 42.7),
    (30, 40.9), (30.06, 42.3), (30.13, 43.8), (30.2, 45.2), (30.28, 46.4),
]

# histogram counts, 5 m/s bins
bin_left = [-35, -30, -25, -20, -15, -10, -5, 0, 5, 10, 15, 20, 25, 30, 35, 40, 45]
u_counts = [1, 0, 0, 0, 19, 89, 44, 118, 144, 115, 145, 57, 114, 115, 72, 37, 24]
v_counts = [0, 25, 36, 10, 111, 147, 80, 157, 129, 224, 35, 42, 57, 24, 15, 0, 0]

title_lines = [
    ("Pico Balloon Archive", 22.2, NAVY, 50),
    ("Callsign: W0DLK-1 \u00a0 (WSPR)", 19.4, "black", 72),
    ("2026-06-20 16:08:37 \u00a0to\u00a0 2026-07-21 06:48:47 \u00a0UTC", 15.3, "black", 93),
    ("Time aloft: 30.6 days \u00a0\u00a0 Data points: 1759", 15.3, "black", 116),
    ("Altitude: 7960 - 13240 m \u00a0\u00a0 (float 580 h)", 15.3, "black", 138),
    ("Latitude range: 29.81 to 63.65", 15.3, "black", 161),
    ("Path length: 56,784 km", 15.3, "black", 184),
    ("Position source: Maidenhead 6-char grid \u00a0\u00a0 σ(E,N) = 2508, 2728 m", 15.3, "black", 206),
    ("Median sampling gap: 10 min \u00a0\u00a0 Longest gap: 42.3 h", 15.3, "black", 229),
    ("Data quality score: 0.912", 18, NAVY, 254),
    ("precision=0.87 \u00a0 cadence=1.00 \u00a0 agreement=1.00 \u00a0 stability=0.96 \u00a0 coverage=0.79", 12.5, "#555555", 274),
]


def to_dates(days):
    return pd.Timestamp("2026-06-21") + pd.to_timedelta(list(days), unit="D")


def split_rings(rings):
    xs, ys = [], []
    for ring in rings:
        xs += [p[0] for p in ring] + [None]
        ys += [p[1] for p in ring] + [None]
    return xs, ys


def close_rings(rings):
    return [ring + ring[:1] for ring in rings]


def pairs(samples):
    return [s[0] for s in samples], [s[1] for s in samples]


fig = go.Figure()

# map panel
land_x, land_y = split_rings(close_rings(land_rings))
fig.add_trace(go.Scatter(x=land_x, y=land_y, mode="lines", fill="toself", fillcolor=LAND,
                         line=dict(color="#b4baba", width=0.7), showlegend=False, hoverinfo="skip"))
border_x, border_y = split_rings(border_lines)
fig.add_trace(go.Scatter(x=border_x, y=border_y, mode="lines", line=dict(color="#d6d8d6", width=0.6),
                         showlegend=False, hoverinfo="skip"))
casp_x, casp_y = split_rings(close_rings([caspian_ring]))
fig.add_trace(go.Scatter(x=casp_x, y=casp_y, mode="lines", fill="toself", fillcolor=OCEAN,
                         line=dict(color="#b4baba", width=0.7), showlegend=False, hoverinfo="skip"))
grat_x, grat_y = split_rings([[(x, -90), (x, 90)] for x in lon_ticks[1:-1]] + [[(-180, y), (180, y)] for y in lat_ticks[1:-1]])
fig.add_trace(go.Scatter(x=grat_x, y=grat_y, mode="lines", line=dict(color="rgba(120,120,120,0.22)", width=0.7, dash="dot"),
                         showlegend=False, hoverinfo="skip"))
track_x, track_y = pairs(track_samples)
fig.add_trace(go.Scatter(x=track_x, y=track_y, mode="markers", name="Track", legend="legend",
                         marker=dict(color=RED, size=4.5)))
fig.add_trace(go.Scatter(x=launch_lon, y=launch_lat, mode="markers", name="Launch", legend="legend",
                         marker=dict(color="#27ae60", size=17, line=dict(color="black", width=1.5))))
fig.add_trace(go.Scatter(x=last_lon, y=last_lat, mode="markers", name="Last fix", legend="legend",
                         marker=dict(color="#1f77b4", size=21, symbol="star", line=dict(color="black", width=1.5))))

# wind panel
up_t, up_v = pairs(band_upper)
lo_t, lo_v = pairs(band_lower)
fig.add_trace(go.Scatter(x=to_dates(up_t + lo_t[::-1]), y=up_v + lo_v[::-1], mode="lines", fill="toself",
                         fillcolor="rgba(149,165,166,0.42)", line=dict(width=0), name="±1σ propagated error",
                         xaxis="x2", yaxis="y2", legend="legend2"))
wind_t, wind_v = pairs(wind_samples)
fig.add_trace(go.Scatter(x=to_dates(wind_t), y=wind_v, mode="markers", name="Wind speed", xaxis="x2", yaxis="y2",
                         legend="legend2", marker=dict(color="#2c3e50", size=4.5)))
fig.add_trace(go.Scatter(x=to_dates(mean_days), y=mean_wind, mode="lines", name="Daily mean", xaxis="x2", yaxis="y2",
                         legend="legend2", line=dict(color=RED, width=1.6)))

# latitude panel
lat_t, lat_v = pairs(lat_samples)
fig.add_trace(go.Scatter(x=to_dates(lat_t), y=lat_v, mode="markers", xaxis="x3", yaxis="y3", showlegend=False,
                         marker=dict(color="black", size=6)))

# altitude panel
alt_t, alt_v = pairs(alt_samples)
fig.add_trace(go.Scatter(x=to_dates(alt_t), y=alt_v, mode="markers", xaxis="x4", yaxis="y4", showlegend=False,
                         marker=dict(color="#7f8c8d", size=4.5)))
fig.add_trace(go.Scatter(x=to_dates(mean_days), y=mean_alt, mode="lines", xaxis="x4", yaxis="y4", showlegend=False,
                         line=dict(color=RED, width=1.6)))

# histogram panel
bin_mid = [b + 2.5 for b in bin_left]
fig.add_trace(go.Bar(x=bin_mid, y=u_counts, width=5, name="U (zonal)", xaxis="x5", yaxis="y5", legend="legend3", opacity=0.65,
                     marker=dict(color="#1f77b4", line=dict(color="black", width=1))))
fig.add_trace(go.Bar(x=bin_mid, y=v_counts, width=5, name="V (meridional)", xaxis="x5", yaxis="y5", legend="legend3", opacity=0.65,
                     marker=dict(color="#ff7f0e", line=dict(color="black", width=1))))


def base_axis(**kw):
    axis = dict(showline=True, mirror=True, linecolor="black", linewidth=1, ticks="outside", ticklen=5, tickwidth=1,
                tickcolor="black", showgrid=True, gridcolor=GRID, gridwidth=1, zeroline=False, automargin=False,
                tickformat="d", tickfont=dict(family=FONT, size=13.9, color="black"))
    axis.update(kw)
    return axis


def date_axis(domain, anchor, date_range):
    return base_axis(domain=domain, anchor=anchor, type="date", range=date_range,
                     tickmode="array", tickvals=date_ticks, showticklabels=False, tickformat="")


def axis_title(text, standoff=6):
    return dict(text=text, font=dict(family=FONT, size=13.9, color="black"), standoff=standoff)


left = [0.0523, 0.4962]
right = [0.5427, 0.9853]
row1 = [1 - 334 / 1172, 1 - 31 / 1172]
row2 = [1 - 717 / 1172, 1 - 415 / 1172]
row3 = [1 - 1101 / 1172, 1 - 798 / 1172]
WIND_UNIT = "Wind speed (m s<sup>−1</sup>)"
# the latitude panel has no daily mean point on 06-20 so it starts later
with_mean_range = ["2026-06-18 09:36", "2026-07-22 20:10"]
lat_range = ["2026-06-19 03:20", "2026-07-22 19:26"]

fig.update_layout(
    width=1590, height=1189, autosize=False, margin=dict(l=0, r=0, t=0, b=0),
    paper_bgcolor="white", plot_bgcolor="white", barmode="overlay", bargap=0,
    font=dict(family=FONT, color="black"),
    xaxis=base_axis(domain=left, anchor="y", range=[-180, 180], tickmode="array", tickvals=lon_ticks, showgrid=False,
                    ticklabelstandoff=-3, title=axis_title("Longitude (deg)", 8)),
    yaxis=base_axis(domain=row1, anchor="x", range=[-90, 90], tickmode="array", tickvals=lat_ticks, showgrid=False,
                    title=axis_title("Latitude (deg)")),
    xaxis2=date_axis(left, "y2", with_mean_range),
    yaxis2=base_axis(domain=row2, anchor="x2", range=[0, 58.7], tickmode="array", tickvals=wind_ticks, title=axis_title(WIND_UNIT)),
    xaxis3=date_axis(right, "y3", lat_range),
    yaxis3=base_axis(domain=row2, anchor="x3", range=[-90, 90], tickmode="array", tickvals=lat_ticks, title=axis_title("Latitude (deg)")),
    xaxis4=date_axis(left, "y4", with_mean_range),
    yaxis4=base_axis(domain=row3, anchor="x4", range=[8032, 13488], tickmode="array", tickvals=alt_ticks, title=axis_title("Altitude (m AMSL)")),
    xaxis5=base_axis(domain=right, anchor="y5", range=[-100, 100], tickmode="array", tickvals=hist_xticks, ticklabelstandoff=-3,
                     title=axis_title(WIND_UNIT, 8)),
    yaxis5=base_axis(domain=row3, anchor="x5", range=[0, 235.2], tickmode="array", tickvals=hist_yticks, title=axis_title("Frequency")),
    legend=dict(x=88 / 1568, y=1 - 330 / 1172, xanchor="left", yanchor="bottom", font=dict(family=FONT, size=11),
                bgcolor="rgba(255,255,255,0.8)", bordercolor="#cccccc", borderwidth=1, itemsizing="trace", itemwidth=30, tracegroupgap=0),
    legend2=dict(x=348 / 1568, y=1 - 419 / 1172, xanchor="left", yanchor="top", font=dict(family=FONT, size=11),
                 bgcolor="rgba(255,255,255,0.8)", bordercolor="#cccccc", borderwidth=1, itemwidth=30),
    legend3=dict(x=1414 / 1568, y=1 - 802 / 1172, xanchor="left", yanchor="top", font=dict(family=FONT, size=11),
                 bgcolor="rgba(255,255,255,0.8)", bordercolor="#cccccc", borderwidth=1, itemwidth=30),
)

# ocean sits under the land polygons
fig.add_shape(type="rect", xref="x", yref="y", x0=-180, x1=180, y0=-90, y1=90, fillcolor=OCEAN, line_width=0, layer="below")

# panel titles
panel_titles = [("x", "y", "Flight Track"), ("x2", "y2", "Wind Speed vs. Time"), ("x3", "y3", "Latitude vs. Time"),
                ("x4", "y4", "Balloon Altitude vs. Time"), ("x5", "y5", "U and V Wind Components")]
for xa, ya, text in panel_titles:
    fig.add_annotation(text=text, xref=f"{xa} domain", yref=f"{ya} domain", x=0.5, y=1, yshift=3, yanchor="bottom",
                       showarrow=False, font=dict(family=FONT, size=16.7, color="black"))

# date labels are centred under their ticks, the axis labels would hang off to the left
for xa, ya in [("x2", "y2"), ("x3", "y3"), ("x4", "y4")]:
    for tick, label in zip(date_ticks, date_labels):
        fig.add_annotation(text=label, xref=xa, yref=f"{ya} domain", x=tick, y=0, yshift=-21, textangle=-20,
                           xanchor="center", yanchor="middle", showarrow=False,
                           font=dict(family=FONT, size=13.9, color="black"))

fig.add_annotation(text="UTC date", xref="x4 domain", yref="y4 domain", x=0.5, y=0, yshift=-55, xanchor="center", yanchor="middle",
                   showarrow=False, font=dict(family=FONT, size=13.9, color="black"))

# info panel
for text, size, color, py in title_lines:
    fig.add_annotation(text=text, xref="paper", yref="paper", x=1198 / 1568, y=1 - py / 1172, xanchor="center",
                       yanchor="middle", showarrow=False, font=dict(family=FONT, size=size, color=color))

fig.write_html("out.html", config=dict(displayModeBar=False), post_script="document.body.style.margin='0';")
